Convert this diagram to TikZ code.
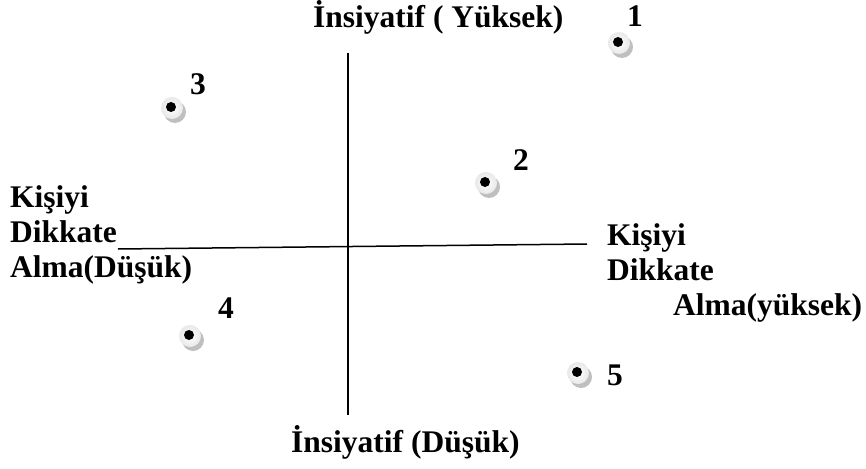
\documentclass[tikz,border=0pt]{standalone}
\usepackage{fontspec}
\setmainfont{Liberation Serif}
\begin{document}
\begin{tikzpicture}[x=1pt,y=-1pt,
  lbl/.style={font=\fontsize{31.5}{35}\selectfont\bfseries, inner sep=0pt, anchor=base west},
  axis/.style={line width=1.5pt}]
\useasboundingbox (0,0) rectangle (866,468);

% axes
\coordinate (T) at (348,53);
\coordinate (B) at (348,415);
\coordinate (L) at (118,249);
\coordinate (R) at (587,244);
\draw[axis] (T) -- (B);
\draw[axis] (L) -- (R);

% axis titles
\node[lbl] (top) at (313,28) {İnsiyatif ( Yüksek)};
\node[lbl] (bottom) at (291,452) {İnsiyatif (Düşük)};
\node[lbl] (left1) at (10,207) {Kişiyi};
\node[lbl] (left2) at (10,242) {Dikkate};
\node[lbl] (left3) at (10,277) {Alma(Düşük)};
\node[lbl] (right1) at (607,245) {Kişiyi};
\node[lbl] (right2) at (607,280) {Dikkate};
\node[lbl] (right3) at (673,315) {Alma(yüksek)};

% markers: shadow, shaded disc, black centre
\foreach \n/\px/\py in {m1/619/43, m2/486/183, m3/172/108, m4/190/336, m5/578/373}{
  \fill[gray!50] (\px+3,\py+4) circle (11pt);
  \shade[inner color=white, outer color=gray!18] (\px,\py) circle (11pt);
  \node[circle, fill=black, minimum size=10pt, inner sep=0pt] (\n) at (\px-1,\py-1) {};
}

% marker numbers
\node[lbl] (n1) at (627,27) {1};
\node[lbl] (n2) at (513,170) {2};
\node[lbl] (n3) at (190,95) {3};
\node[lbl] (n4) at (218,318) {4};
\node[lbl] (n5) at (607,385) {5};
\end{tikzpicture}
\end{document}
